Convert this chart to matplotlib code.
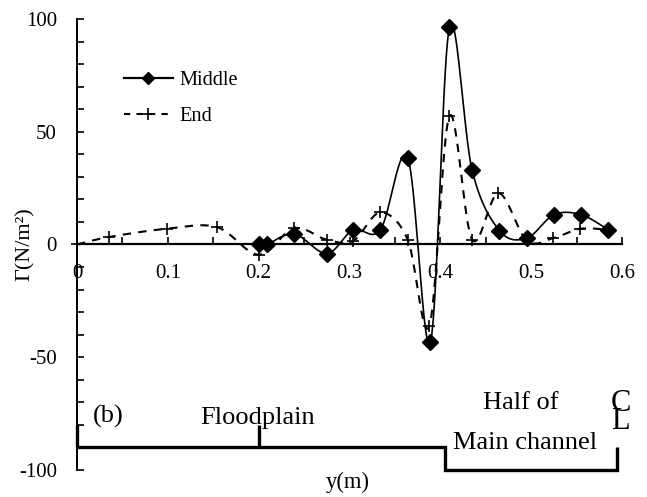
import matplotlib
matplotlib.use("Agg")
import matplotlib.pyplot as plt
import numpy as np

# Boundary shear (N/m2) across half the compound channel
y_middle = [0.2, 0.209, 0.239, 0.275, 0.304, 0.334, 0.364, 0.389, 0.41,
            0.435, 0.465, 0.495, 0.525, 0.555, 0.585]
tau_middle = [0, 0, 4.7, -4, 6.5, 6.5, 38.5, -43.4, 96.3,
              32.9, 6.2, 2.8, 13.2, 13.2, 6.5]

y_end = [0, 0.035, 0.099, 0.154, 0.2, 0.239, 0.275, 0.304, 0.334, 0.364,
         0.388, 0.41, 0.435, 0.464, 0.495, 0.524, 0.554, 0.585]
tau_end = [0, 3.3, 7, 7.7, -4.5, 7.2, 2.1, 1.6, 14.2, 2.2,
           -36, 56.9, 2.2, 22.8, 1.8, 2.8, 7, 6.5]

xticks = [0, 0.1, 0.2, 0.3, 0.4, 0.5, 0.6]
xticklabels = ['0', '0.1', '0.2', '0.3', '0.4', '0.5', '0.6']
yticks = [-100, -50, 0, 50, 100]


def smooth(x, y, n=40):
    # bezier smoothing through every point (spreadsheet-style smoothed line)
    p = np.column_stack([x, y]).astype(float)
    out = [p[0]]
    t = np.linspace(0, 1, n)[1:, None]
    for i in range(len(p) - 1):
        p0 = p[i - 1] if i > 0 else p[i]
        p1, p2 = p[i], p[i + 1]
        p3 = p[i + 2] if i + 2 < len(p) else p[i + 1]
        c1 = p1 + (p2 - p0) / 6
        c2 = p2 - (p3 - p1) / 6
        seg = ((1 - t) ** 3 * p1 + 3 * (1 - t) ** 2 * t * c1
               + 3 * (1 - t) * t ** 2 * c2 + t ** 3 * p2)
        out.extend(seg)
    out = np.array(out)
    return out[:, 0], out[:, 1]


plt.rcParams['font.family'] = ['Liberation Serif', 'DejaVu Serif']
plt.rcParams['font.size'] = 15
plt.rcParams['axes.unicode_minus'] = False

fig = plt.figure(figsize=(6.47, 4.97), dpi=100)
ax = fig.add_axes([0.119, 0.0543, 0.8424, 0.9075])

dash = (0, (4, 3.5))
sx, sy = smooth(y_middle, tau_middle)
ax.plot(sx, sy, color='black', lw=1.2, clip_on=False)
ax.plot(y_middle, tau_middle, ls='none', marker='D', ms=8, color='black',
        clip_on=False)
ex, ey = smooth(y_end, tau_end)
ax.plot(ex, ey, color='black', lw=1.5, ls=dash, clip_on=False)
ax.plot(y_end, tau_end, ls='none', marker='+', ms=9, mew=1.2, color='black',
        clip_on=False)

# legend handles
hm, = ax.plot([], [], color='black', lw=1.6, marker='D', ms=6)
he, = ax.plot([], [], color='black', lw=1.5, ls=(0, (3, 3)), marker='+',
              ms=8, mew=1.2)
ax.legend([hm, he], ['Middle', 'End'], loc='upper left',
          bbox_to_anchor=(0.0862, 0.885), frameon=False, fontsize=14.7,
          handlelength=2.4, handletextpad=0.3, labelspacing=0.82,
          borderpad=0, borderaxespad=0)

ax.set_xlim(0, 0.6)
ax.set_ylim(-100, 100)
ax.spines['top'].set_visible(False)
ax.spines['right'].set_visible(False)
ax.spines['bottom'].set_position(('data', 0))
ax.spines['bottom'].set_linewidth(1.6)
ax.spines['left'].set_linewidth(1.4)

ax.set_xticks(xticks)
ax.set_xticklabels(xticklabels)
ax.set_xticks(np.arange(0.05, 0.6, 0.1), minor=True)
ax.set_yticks(yticks)
ax.set_yticks(np.arange(-100, 101, 10), minor=True)
ax.tick_params(axis='x', which='both', direction='in', length=5, width=1.2,
               pad=14)
ax.tick_params(axis='y', which='both', direction='in', length=5, width=1.2,
               pad=14.5)

ax.set_ylabel('Γ(N/m²)', fontsize=16)
ax.yaxis.set_label_coords(-0.077, 0.5)
ax.set_xlabel('y(m)', fontsize=16.3)
ax.xaxis.set_label_coords(0.497, -0.004)

# channel cross-section sketch under the curves
sec = dict(color='black', lw=2.4, clip_on=False, solid_capstyle='butt',
           solid_joinstyle='miter')
ax.plot([0, 0.405, 0.405, 0.595, 0.595], [-90, -90, -100, -100, -90], **sec)
ax.plot([0, 0], [-90, -80], **sec)
ax.plot([0.2, 0.2], [-90, -80], **sec)

ax.text(0.034, -79, '(b)', ha='center', va='baseline', fontsize=19)
ax.text(0.199, -79.4, 'Floodplain', ha='center', va='baseline', fontsize=19)
ax.text(0.489, -73, 'Half of', ha='center', va='baseline', fontsize=19)
ax.text(0.493, -90.8, 'Main channel', ha='center', va='baseline',
        fontsize=19)
# centre-line mark: C stacked tightly over L
ax.text(0.588, -81.8, 'C\nL', ha='left', va='baseline', fontsize=22,
        linespacing=0.5, multialignment='left')

fig.savefig('out.png', dpi=100)
